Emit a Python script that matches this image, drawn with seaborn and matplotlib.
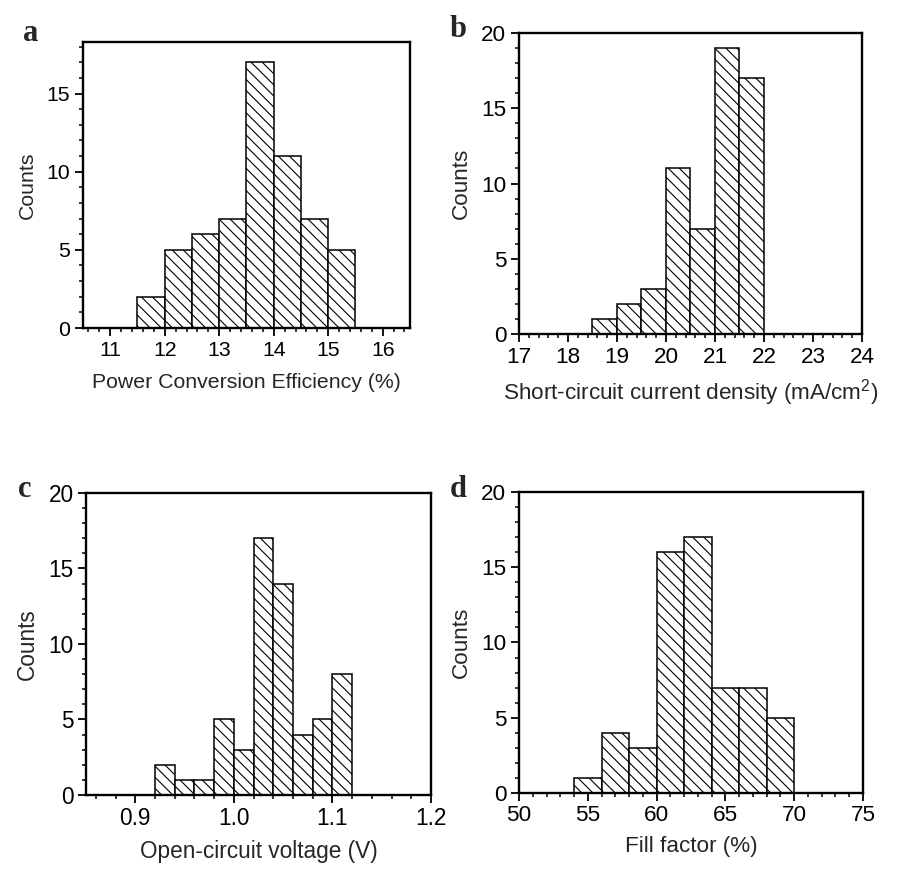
import matplotlib
matplotlib.use("Agg")
import matplotlib.pyplot as plt
from matplotlib.ticker import MultipleLocator
import numpy as np
import pandas as pd
import seaborn as sns

sns.set_style("ticks")
plt.rcParams['font.family'] = ['Liberation Sans', 'DejaVu Sans']
plt.rcParams['mathtext.fontset'] = 'custom'
plt.rcParams['mathtext.rm'] = 'Liberation Sans'
plt.rcParams['mathtext.it'] = 'Liberation Sans'
plt.rcParams['mathtext.default'] = 'regular'
plt.rcParams['hatch.linewidth'] = 0.8

# bin edges and counts
pce_edges = [11.5, 12.0, 12.5, 13.0, 13.5, 14.0, 14.5, 15.0, 15.5]
pce_counts = [2, 5, 6, 7, 17, 11, 7, 5]

jsc_edges = [18.5, 19.0, 19.5, 20.0, 20.5, 21.0, 21.5, 22.0]
jsc_counts = [1, 2, 3, 11, 7, 19, 17]

voc_edges = [0.92, 0.94, 0.96, 0.98, 1.00, 1.02, 1.04, 1.06, 1.08, 1.10, 1.12]
voc_counts = [2, 1, 1, 5, 3, 17, 14, 4, 5, 8]

ff_edges = [54, 56, 58, 60, 62, 64, 66, 68, 70]
ff_counts = [1, 4, 3, 16, 17, 7, 7, 5]

panels = [
    # letter, edges, counts, xlabel, xlim, ylim, xmajor, xminor, axes rect, font size, xlabel pad
    ('a', pce_edges, pce_counts, 'Power Conversion Efficiency (%)',
     (10.5, 16.5), (0, 18.3), 1, 0.2, [0.0923, 0.6247, 0.3637, 0.3273], 15.3, 10),
    ('b', jsc_edges, jsc_counts, r'Short-circuit current density (mA/cm$^{2}$)',
     (17, 24), (0, 20), 1, 0.2, [0.5773, 0.6178, 0.3815, 0.3444], 16.2, 7),
    ('c', voc_edges, voc_counts, 'Open-circuit voltage (V)',
     (0.85, 1.2), (0, 20), 0.1, 0.02, [0.0957, 0.0904, 0.3837, 0.3456], 16.3, 7),
    ('d', ff_edges, ff_counts, 'Fill factor (%)',
     (50, 75), (0, 20), 5, 1, [0.5773, 0.0927, 0.3826, 0.3444], 16.2, 7),
]

letter_pos = {'a': (0.026, 0.953), 'b': (0.5006, 0.958),
              'c': (0.020, 0.431), 'd': (0.5006, 0.431)}

fig = plt.figure(figsize=(8.99, 8.74), dpi=100)

for letter, edges, counts, xlabel, xlim, ylim, xmaj, xmin, rect, fs, xpad in panels:
    ax = fig.add_axes(rect)
    e = np.array(edges, dtype=float)
    df = pd.DataFrame({'value': (e[:-1] + e[1:]) / 2, 'count': counts})
    sns.histplot(data=df, x='value', weights='count', bins=list(e), ax=ax,
                 color='white', edgecolor='black', linewidth=1.1,
                 alpha=1, hatch='\\\\\\')
    ax.set_xlim(*xlim)
    ax.set_ylim(*ylim)
    ax.xaxis.set_major_locator(MultipleLocator(xmaj))
    ax.xaxis.set_minor_locator(MultipleLocator(xmin))
    ax.yaxis.set_major_locator(MultipleLocator(5))
    ax.yaxis.set_minor_locator(MultipleLocator(1))
    if letter == 'c':
        ax.xaxis.set_major_formatter(plt.FormatStrFormatter('%.1f'))
    ax.tick_params(which='major', direction='out', length=6, width=1.3,
                   labelsize=fs, pad=3, colors='black')
    ax.tick_params(which='minor', direction='out', length=3, width=1.3)
    ax.tick_params(top=False, right=False, which='both')
    for s in ax.spines.values():
        s.set_linewidth(1.7)
        s.set_color('black')
    ax.set_xlabel(xlabel, fontsize=fs, labelpad=xpad)
    ax.set_ylabel('Counts', fontsize=fs, labelpad=7)
    lx, ly = letter_pos[letter]
    fig.text(lx, ly, letter, fontsize=22, fontweight='bold',
             family=['Liberation Serif', 'DejaVu Serif'], va='baseline')

plt.savefig('out.png', dpi=100)
